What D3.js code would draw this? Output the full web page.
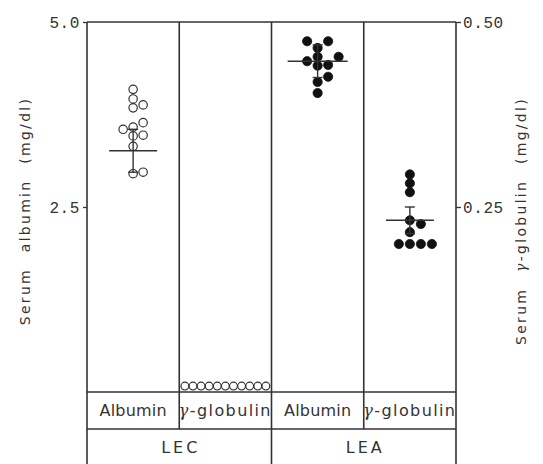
<!DOCTYPE html>
<html>
<head>
<meta charset="utf-8">
<script src="https://cdn.jsdelivr.net/npm/d3@7"></script>
<style>
  body { margin: 0; background: #fff; }
  svg { display: block; }
</style>
</head>
<body>
<div id="chart"></div>
<script>
// table headings
let groups = ["LEC", "LEA"];
let analytes = ["Albumin", "γ-globulin"];

// individual animals
let lecAlbumin = [4.09, 3.96, 3.88, 3.84, 3.64, 3.58, 3.55, 3.47, 3.46, 3.32, 2.97, 2.95];
let lecGlobulin = [0.008, 0.008, 0.008, 0.008, 0.008, 0.008, 0.008, 0.008, 0.008, 0.008, 0.008];
let leaAlbumin = [4.74, 4.74, 4.65, 4.53, 4.53, 4.47, 4.42, 4.41, 4.26, 4.19, 4.04];
let leaGlobulin = [0.294, 0.282, 0.270, 0.232, 0.227, 0.216, 0.200, 0.200, 0.200, 0.200];

// mean and SD bars as drawn (null = none)
let means = [3.26, null, 4.47, 0.232];
let sds = [0.29, null, 0.22, 0.018];

let albuminTicks = [2.5, 5.0];
let globulinTicks = [0.25, 0.50];

let width = 543, height = 464;
let margin = { top: 22, left: 87, right: 87 };
let plotBottom = 392, rowBottom = 429, tableBottom = 470;
let ink = "#333";
let sans = "'DejaVu Sans', sans-serif";
let mono = "'Liberation Mono', 'DejaVu Sans Mono', monospace";

let svg = d3.select("#chart")
            .append("svg")
            .attr("width", width)
            .attr("height", height);

let yAlb = d3.scaleLinear()
             .domain([0, 5])
             .range([plotBottom, margin.top]);

let yGlob = d3.scaleLinear()
              .domain([0, 0.5])
              .range([plotBottom, margin.top]);

let panels = [
  { group: "LEC", analyte: analytes[0], values: lecAlbumin, y: yAlb, filled: false, r: 4.2, step: 10, meanW: 48 },
  { group: "LEC", analyte: analytes[1], values: lecGlobulin, y: yGlob, filled: false, r: 3.9, step: 8.1, meanW: 48 },
  { group: "LEA", analyte: analytes[0], values: leaAlbumin, y: yAlb, filled: true, r: 4.6, step: 10.5, meanW: 60 },
  { group: "LEA", analyte: analytes[1], values: leaGlobulin, y: yGlob, filled: true, r: 4.6, step: 11, meanW: 48 }
];

let xscale = d3.scaleBand()
               .domain(d3.range(panels.length))
               .range([margin.left, width - margin.right]);

let gscale = d3.scaleBand()
               .domain(groups)
               .range([margin.left, width - margin.right]);

// simple dodge: place low values first, push sideways when they would overlap
function dodge(values, y, cx, r, step) {
  let placed = [];
  values.slice().sort((a, b) => a - b).forEach(v => {
    let py = y(v);
    for (let k = 0; k < 40; k++) {
      let off = k === 0 ? 0 : (k % 2 ? 1 : -1) * Math.ceil(k / 2) * step;
      let px = cx + off;
      if (placed.every(p => Math.hypot(p.x - px, p.y - py) >= 2 * r * 0.95)) {
        placed.push({ x: px, y: py, v: v });
        break;
      }
    }
  });
  return placed;
}

// gamma drawn as an italic serif glyph, rest as plain text
function withGamma(t, str) {
  if (str.includes("γ")) {
    let parts = str.split("γ");
    t.append("tspan").text(parts[0]);
    t.append("tspan").text("γ").style("font-family", "'DejaVu Serif', serif").style("font-style", "italic");
    t.append("tspan").text(parts[1]);
  } else {
    t.text(str);
  }
}

// frame and table lines
let lines = svg.append("g")
               .attr("stroke", ink)
               .attr("stroke-width", 1.6)
               .attr("fill", "none");

lines.append("line")
     .attr("x1", margin.left).attr("x2", width - margin.right)
     .attr("y1", margin.top).attr("y2", margin.top);
[plotBottom, rowBottom].forEach(yy => {
  lines.append("line")
       .attr("x1", margin.left).attr("x2", width - margin.right)
       .attr("y1", yy).attr("y2", yy);
});
xscale.domain().forEach(i => {
  let x = xscale(i);
  lines.append("line")
       .attr("x1", x).attr("x2", x)
       .attr("y1", margin.top)
       .attr("y2", i === 0 || panels[i].group !== panels[i - 1].group ? tableBottom : rowBottom);
});
lines.append("line")
     .attr("x1", width - margin.right).attr("x2", width - margin.right)
     .attr("y1", margin.top).attr("y2", tableBottom);

// axes
function styleAxis(g) {
  g.select(".domain").remove();
  g.selectAll(".tick line").attr("stroke", ink).attr("stroke-width", 1.3);
  g.selectAll(".tick text")
   .attr("fill", ink)
   .style("font-family", mono)
   .style("font-size", "16px")
   .style("letter-spacing", "0.6px");
}

svg.append("g")
   .attr("transform", `translate(${margin.left},0)`)
   .call(d3.axisLeft(yAlb).tickValues(albuminTicks).tickFormat(d3.format(".1f")).tickSize(4).tickPadding(3))
   .call(styleAxis);

svg.append("g")
   .attr("transform", `translate(${width - margin.right},0)`)
   .call(d3.axisRight(yGlob).tickValues(globulinTicks).tickFormat(d3.format(".2f")).tickSize(5).tickPadding(2))
   .call(styleAxis);

// axis titles
[
  { label: "Serum albumin (mg/dl)", x: 30, y: 211 },
  { label: "Serum γ-globulin (mg/dl)", x: 526, y: 221 }
].forEach(d => {
  let t = svg.append("text")
             .attr("transform", `translate(${d.x},${d.y}) rotate(-90)`)
             .attr("text-anchor", "middle")
             .attr("fill", ink)
             .style("font-family", sans)
             .style("font-size", "14px")
             .style("letter-spacing", "2.3px")
             .style("word-spacing", "9px");
  withGamma(t, d.label);
});

// panel labels
panels.forEach((p, i) => {
  let t = svg.append("text")
             .attr("x", xscale(i) + xscale.bandwidth() / 2)
             .attr("y", (plotBottom + rowBottom) / 2)
             .attr("dy", "0.36em")
             .attr("text-anchor", "middle")
             .attr("fill", ink)
             .style("font-family", sans)
             .style("font-size", "16px")
             .style("letter-spacing", p.analyte.includes("γ") ? "1.4px" : "0.2px");
  withGamma(t, p.analyte);
});

svg.selectAll(".group-label")
   .data(groups)
   .enter()
   .append("text")
   .attr("class", "group-label")
   .text(d => d)
   .attr("x", d => gscale(d) + gscale.bandwidth() / 2 + 1.5)
   .attr("y", (rowBottom + height) / 2 + 1)
   .attr("dy", "0.36em")
   .attr("text-anchor", "middle")
   .attr("fill", ink)
   .style("font-family", sans)
   .style("font-size", "16px")
   .style("letter-spacing", "3px");

// dots and mean +/- SD
panels.forEach((p, i) => {
  let cx = xscale(i) + xscale.bandwidth() / 2;
  let g = svg.append("g");
  let pts = dodge(p.values, p.y, cx, p.r, p.step);

  g.selectAll("circle")
   .data(pts)
   .enter()
   .append("circle")
   .attr("cx", d => d.x)
   .attr("cy", d => d.y)
   .attr("r", p.r)
   .attr("fill", p.filled ? "#111" : "none")
   .attr("stroke", p.filled ? "#111" : ink)
   .attr("stroke-width", p.filled ? 0.8 : 1.2);

  if (means[i] == null) return;
  let m = p.y(means[i]), hi = p.y(means[i] + sds[i]), lo = p.y(means[i] - sds[i]);
  let bar = g.append("g").attr("stroke", ink).attr("stroke-width", 1.4);
  bar.append("line").attr("x1", cx - p.meanW / 2).attr("x2", cx + p.meanW / 2).attr("y1", m).attr("y2", m);
  bar.append("line").attr("x1", cx).attr("x2", cx).attr("y1", hi).attr("y2", lo);
  [hi, lo].forEach(yy => {
    bar.append("line").attr("x1", cx - 5).attr("x2", cx + 5).attr("y1", yy).attr("y2", yy);
  });
});
</script>
</body>
</html>
